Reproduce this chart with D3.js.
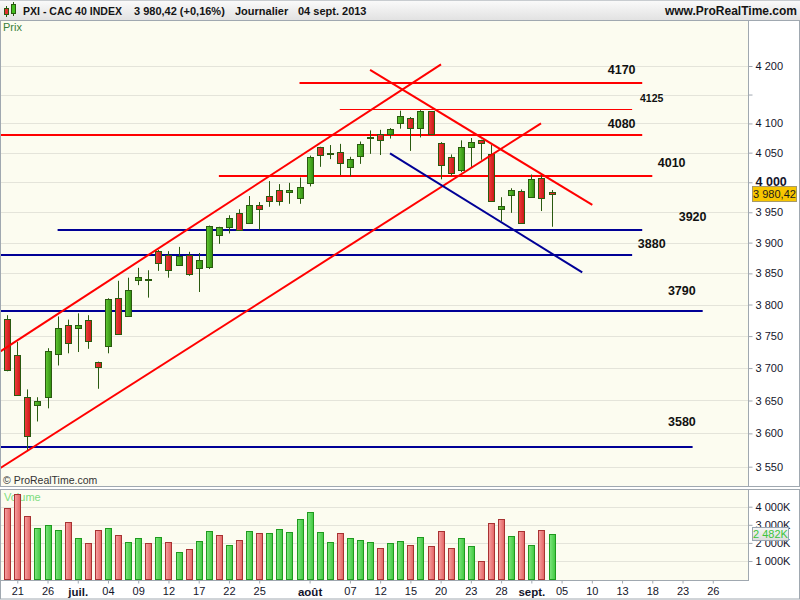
<!DOCTYPE html>
<html>
<head>
<meta charset="utf-8">
<script src="https://cdn.jsdelivr.net/npm/d3@7"></script>
<style>
  html, body { margin: 0; padding: 0; background: #ffffff; }
  svg { display: block; font-family: "Liberation Sans", Arial, sans-serif; }
</style>
</head>
<body>
<svg id="chart" width="800" height="600"></svg>
<script>
// ---- CAC 40 daily sessions, 20 June - 4 Sept 2013 ----
const opens = [3777,3720,3655,3643,3656,3722,3767,3762,3776,3709,
               3734,3810,3782,3839,3840,3886,3879,3864,3879,3858,
               3861,3913,3926,3949,3932,3962,3977,3987,3983,3973,
               3998,4059,4048,4051,4025,4044,4075,4081,4081,4100,
               4109,4093,4121,4066,4042,4020,4059,4071,4047,3955,
               3978,3985,3975,4008,3984];
const highs = [3783,3741,3667,3655,3731,3781,3776,3786,3783,3710,
               3810,3838,3843,3859,3855,3888,3886,3893,3885,3883,
               3928,3926,3945,3955,3977,3967,4002,3997,3999,4008,
               4045,4060,4063,4065,4043,4069,4088,4089,4092,4122,
               4111,4123,4121,4068,4047,4071,4075,4072,4063,3975,
               3990,3988,4013,4013,3987];
const lows   = [3695,3657,3575,3618,3638,3704,3723,3725,3730,3668,
               3723,3752,3781,3831,3811,3854,3843,3862,3846,3820,
               3857,3898,3915,3920,3931,3921,3959,3961,3964,3964,
               3993,4026,4039,4012,4010,4031,4048,4046,4074,4091,
               4053,4076,4080,4005,4011,4017,4025,4038,3967,3935,
               3949,3932,3974,3952,3926];
const closes = [3697,3658,3596,3649,3726,3762,3739,3767,3742,3701,
               3809,3753,3823,3844,3841,3867,3855,3878,3849,3872,
               3927,3925,3940,3921,3962,3955,3968,3969,3987,3992,
               4043,4046,4049,4032,4039,4064,4077,4071,4091,4113,
               4093,4122,4082,4029,4015,4059,4069,4066,3968,3960,
               3987,3933,4005,3974.06,3980.42];
// traded volume, thousands of shares
const volumesK = [3912,4702,3486,2807,2989,2696,3138,2254,1978,2696,
                  2807,2420,2033,2254,1978,2309,2033,1481,1646,2088,
                  2641,2420,1867,2144,2641,2530,2530,2751,2586,3304,
                  3691,2586,2033,2530,2254,2144,2033,1702,1978,2088,
                  1867,2309,1812,2641,1702,2254,1812,983,3083,3304,
                  2365,2641,1867,2696,2482];
const prevClose = 3780;          // close of the session before the first candle

// date axis: trading-day index and its label (future sessions continue the count)
const dayTickIdx  = [1, 4, 7, 10, 13, 16, 19, 22, 25, 30, 34, 37, 40, 43, 46, 49, 52, 55, 58, 61, 64, 67, 70];
const dayTickText = ["21","26","juil.","04","09","12","17","22","25","août","07","12","15","20","23","28","sept.","05","10","13","18","23","26"];
const monthTicks  = ["juil.","août","sept."];

// price and volume axis ticks
const priceTicks = [3550,3600,3650,3700,3750,3800,3850,3900,3950,4000,4050,4100,4150,4200];
const priceTickUnlabelled = [4150];
const volumeTicks = [1000,2000,3000,4000];

// horizontal support / resistance levels (value, first and last session index)
const levelValues = [4170, 4125, 4080, 4010, 3920, 3880, 3790, 3580];
const levelFrom   = [29, 33, -1, 21, 5, -1, -1, -1];
const levelTo     = [63, 62, 63, 64, 63, 62, 69, 68];
const levelKind   = ["res","resThin","res","res","sup","sup","sup","sup"];

// trend lines: [session index, price] end points
const trendTop     = [[-0.714, 3725.6], [43.04, 4203]];
const trendBottom  = [[-0.714, 3547.6], [52.96, 4100.2]];
const trendFallRed = [[36.0, 4193], [58.05, 3962.1]];
const trendFallBlue= [[37.98, 4048.9], [57.05, 3851.5]];

// ---- layout ----
const W = 800, H = 600;
const plotL = 0, plotR = 748;
const priceTop = 20, priceBot = 486;
const volTop = 489, volBot = 580;

// level tag placement (session index of text centre, lift above the line in px)
const tagAt   = [60.96, 63.94, 60.96, 65.92, 68.0, 63.94, 66.93, 66.94];
const tagLift = [14, 11, 12, 14, 14, 11, 20, 25];

const svg = d3.select("#chart");
const defs = svg.append("defs");

const locale = d3.formatLocale({ decimal: ",", thousands: " ", grouping: [3], currency: ["", " €"] });
const fmtInt = locale.format(",.0f");
const fmtPrice = locale.format(",.2f");

const x  = d3.scaleLinear().domain([0, 54]).range([7.2, 551.5]);
const yP = d3.scaleLog().domain([3550, 4200]).range([466.7, 66]);
const yV = d3.scaleLinear().domain([0, 4000]).range([579.1, 506.7]);

function grad(id, c0, c1) {
  const g = defs.append("linearGradient").attr("id", id).attr("x1", 0).attr("x2", 1).attr("y1", 0).attr("y2", 0);
  g.append("stop").attr("offset", "0%").attr("stop-color", c0);
  g.append("stop").attr("offset", "100%").attr("stop-color", c1);
}
grad("gUp", "#62c834", "#2f8d0e");
grad("gDown", "#f23e3e", "#c81616");
grad("vUp", "#7fe67f", "#3fc83f");
grad("vDown", "#f7a3a3", "#e26262");
const hg = defs.append("linearGradient").attr("id", "hdr").attr("x1", 0).attr("x2", 0).attr("y1", 0).attr("y2", 1);
hg.append("stop").attr("offset", "0%").attr("stop-color", "#fbfbfb");
hg.append("stop").attr("offset", "100%").attr("stop-color", "#e2e2e2");
const vb = defs.append("linearGradient").attr("id", "volBox").attr("x1", 0).attr("x2", 0).attr("y1", 0).attr("y2", 1);
vb.append("stop").attr("offset", "0%").attr("stop-color", "#f7f7f7");
vb.append("stop").attr("offset", "100%").attr("stop-color", "#dcdcdc");

defs.append("clipPath").attr("id", "clipPrice")
  .append("rect").attr("x", plotL + 1).attr("y", priceTop + 1).attr("width", plotR - plotL - 1).attr("height", priceBot - priceTop - 1);

// ---- backgrounds ----
svg.append("rect").attr("width", W).attr("height", H).attr("fill", "#ffffff");
svg.append("rect").attr("x", 0).attr("y", 0).attr("width", W).attr("height", priceTop).attr("fill", "url(#hdr)");
svg.append("rect").attr("x", plotL).attr("y", priceTop).attr("width", plotR - plotL).attr("height", priceBot - priceTop).attr("fill", "#fcfcf0");
svg.append("rect").attr("x", plotL).attr("y", volTop).attr("width", plotR - plotL).attr("height", volBot - volTop).attr("fill", "#fcfcf0");

// ---- header ----
const head = svg.append("g");
head.append("line").attr("x1", 6.5).attr("x2", 6.5).attr("y1", 6).attr("y2", 17).attr("stroke", "#2a5a10");
head.append("rect").attr("x", 4.5).attr("y", 8.5).attr("width", 4).attr("height", 6).attr("fill", "#e23030").attr("stroke", "#2a5a10");
head.append("line").attr("x1", 13.5).attr("x2", 13.5).attr("y1", 2).attr("y2", 16).attr("stroke", "#2a5a10");
head.append("rect").attr("x", 11.5).attr("y", 4.5).attr("width", 4).attr("height", 9).attr("fill", "#44c020").attr("stroke", "#2a5a10");
const hdrFont = { "font-size": "11px", "font-weight": "bold", fill: "#141414" };
function txt(g, tx, ty, s, st) {
  const t = g.append("text").attr("x", tx).attr("y", ty).text(s);
  Object.entries(st).forEach(([k, v]) => t.attr(k, v));
  return t;
}
txt(head, 23, 15, "PXI - CAC 40 INDEX", { ...hdrFont, lengthAdjust: "spacingAndGlyphs", textLength: 99 });
txt(head, 134, 15, fmtPrice(closes[closes.length - 1]) + " (+0,16%)", hdrFont);
txt(head, 235, 15, "Journalier", hdrFont);
txt(head, 298, 15, "04 sept. 2013", hdrFont);
txt(head, 797, 15, "www.ProRealTime.com", { "font-size": "12px", "font-weight": "bold", fill: "#141414", "text-anchor": "end" });

// ---- grid ----
const grid = svg.append("g");
grid.selectAll("line.pg").data(priceTicks).join("line")
  .attr("x1", plotL + 1).attr("x2", plotR)
  .attr("y1", d => Math.round(yP(d)) + 0.5).attr("y2", d => Math.round(yP(d)) + 0.5)
  .attr("stroke", "#e4e4da").attr("stroke-width", 1);
grid.selectAll("line.vg").data(volumeTicks).join("line")
  .attr("x1", plotL + 1).attr("x2", plotR)
  .attr("y1", d => Math.round(yV(d)) + 0.5).attr("y2", d => Math.round(yV(d)) + 0.5)
  .attr("stroke", "#e4e4da").attr("stroke-width", 1);

txt(svg, 3, 31, "Prix", { "font-size": "11px", fill: "#3a7f3a" });
txt(svg, 3, 484, "© ProRealTime.com", { "font-size": "10.5px", fill: "#333333" });
txt(svg, 4, 501, "Volume", { "font-size": "11px", fill: "#7ddc7d" });

// ---- price panel content ----
const pricePlot = svg.append("g").attr("clip-path", "url(#clipPrice)");
const n = closes.length;
const px = i => Math.round(x(i)) + 0.5;
const isUp = i => closes[i] >= opens[i];

// support / resistance levels, snapped to whole pixels
const levelColor = k => (k === "sup" ? "#000096" : "#ff0000");
const levelWidth = k => (k === "resThin" ? 1 : 2);
const levelY = (d, i) => Math.round(yP(d)) + (levelWidth(levelKind[i]) === 1 ? 0.5 : 0);
pricePlot.selectAll("line.level").data(levelValues).join("line")
  .attr("x1", (d, i) => x(levelFrom[i])).attr("x2", (d, i) => x(levelTo[i]))
  .attr("y1", levelY).attr("y2", levelY)
  .attr("stroke", (d, i) => levelColor(levelKind[i]))
  .attr("stroke-width", (d, i) => levelWidth(levelKind[i]));

// candles
const cg = pricePlot.append("g");
const candles = cg.selectAll("g").data(d3.range(n)).join("g");
candles.append("line")
  .attr("x1", px).attr("x2", px)
  .attr("y1", i => yP(highs[i])).attr("y2", i => yP(lows[i]))
  .attr("stroke", "#2a5a10").attr("stroke-width", 1);
candles.append("rect")
  .attr("x", i => Math.round(x(i)) - 2.5)
  .attr("width", 6)
  .attr("y", i => Math.round(yP(Math.max(opens[i], closes[i]))) + 0.5)
  .attr("height", i => Math.max(1, Math.round(yP(Math.min(opens[i], closes[i]))) - Math.round(yP(Math.max(opens[i], closes[i])))))
  .attr("fill", i => (isUp(i) ? "url(#gUp)" : "url(#gDown)"))
  .attr("stroke", "#2a5a10").attr("stroke-width", 1);

// trend lines
const segs = [
  { pts: trendTop, c: "#ff0000" },
  { pts: trendBottom, c: "#ff0000" },
  { pts: trendFallRed, c: "#ff0000" },
  { pts: trendFallBlue, c: "#000096" }
];
pricePlot.selectAll("line.trend").data(segs).join("line")
  .attr("x1", d => x(d.pts[0][0])).attr("y1", d => yP(d.pts[0][1]))
  .attr("x2", d => x(d.pts[1][0])).attr("y2", d => yP(d.pts[1][1]))
  .attr("stroke", d => d.c).attr("stroke-width", 2);

// level tags
svg.append("g").selectAll("text").data(levelValues).join("text")
  .attr("x", (d, i) => x(tagAt[i]))
  .attr("y", (d, i) => yP(d) - tagLift[i])
  .attr("dy", "0.36em")
  .attr("text-anchor", "middle")
  .attr("font-size", (d, i) => (levelKind[i] === "resThin" ? "10.5px" : "12.5px"))
  .attr("font-weight", "bold")
  .attr("fill", "#111111")
  .text(d => d);

// ---- volume bars ----
const volUp = i => closes[i] >= (i === 0 ? prevClose : closes[i - 1]);
svg.append("g").selectAll("rect").data(volumesK).join("rect")
  .attr("x", (d, i) => Math.round(x(i)) - 2.5)
  .attr("width", 6)
  .attr("y", d => Math.round(yV(d)) + 0.5)
  .attr("height", d => Math.round(yV(0)) - Math.round(yV(d)))
  .attr("fill", (d, i) => (volUp(i) ? "url(#vUp)" : "url(#vDown)"))
  .attr("stroke", (d, i) => (volUp(i) ? "#1f9a1f" : "#a83232"))
  .attr("stroke-width", 1);

// ---- frames ----
const frame = "#a0a8b0";
svg.append("rect").attr("x", 0.5).attr("y", priceTop + 0.5).attr("width", W - 1).attr("height", priceBot - priceTop).attr("fill", "none").attr("stroke", frame);
svg.append("rect").attr("x", 0.5).attr("y", volTop + 0.5).attr("width", W - 1).attr("height", H - volTop - 1.5).attr("fill", "none").attr("stroke", frame);
svg.append("line").attr("x1", plotR + 0.5).attr("x2", plotR + 0.5).attr("y1", priceTop).attr("y2", priceBot).attr("stroke", frame);
svg.append("line").attr("x1", plotR + 0.5).attr("x2", plotR + 0.5).attr("y1", volTop).attr("y2", volBot).attr("stroke", frame);
svg.append("line").attr("x1", 0).attr("x2", plotR + 1).attr("y1", volBot + 0.5).attr("y2", volBot + 0.5).attr("stroke", frame);
svg.append("line").attr("x1", 0).attr("x2", W).attr("y1", 0.5).attr("y2", 0.5).attr("stroke", "#c8ccd0");

// ---- axes ----
const axisColor = "#14142a";
const pAxis = svg.append("g").attr("transform", `translate(${plotR + 0.5},0)`)
  .call(d3.axisRight(yP).tickValues(priceTicks).tickSize(4).tickPadding(3)
    .tickFormat(d => (priceTickUnlabelled.includes(d) ? "" : fmtInt(d))));
pAxis.select(".domain").remove();
pAxis.selectAll(".tick line").attr("stroke", frame);
pAxis.selectAll(".tick text").attr("font-family", null).attr("font-size", "11px").attr("fill", axisColor)
  .filter(d => d === 4000).attr("font-size", "12.5px").attr("font-weight", "bold").attr("dy", "0.22em");

const vAxis = svg.append("g").attr("transform", `translate(${plotR + 0.5},0)`)
  .call(d3.axisRight(yV).tickValues(volumeTicks).tickSize(4).tickPadding(3).tickFormat(d => fmtInt(d) + "K"));
vAxis.select(".domain").remove();
vAxis.selectAll(".tick line").attr("stroke", frame);
vAxis.selectAll(".tick text").attr("font-family", null).attr("font-size", "11px").attr("fill", axisColor);

const xAxis = svg.append("g").attr("transform", `translate(0,${volBot + 0.5})`)
  .call(d3.axisBottom(x).tickValues(dayTickIdx).tickSize(3).tickPadding(4)
    .tickFormat((d, i) => dayTickText[i]));
xAxis.select(".domain").remove();
xAxis.selectAll(".tick line").attr("stroke", frame);
xAxis.selectAll(".tick text").attr("font-family", null).attr("font-size", "11px").attr("fill", axisColor)
  .filter(function () { return monthTicks.includes(d3.select(this).text()); })
  .attr("font-weight", "bold").attr("font-size", "11.5px");

// ---- last value markers (drawn over the axis labels) ----
const lastClose = closes[n - 1];
const lc = svg.append("g").attr("transform", `translate(0,${Math.round(yP(lastClose))})`);
lc.append("rect").attr("x", 752.5).attr("y", -7.5).attr("width", 44).attr("height", 15)
  .attr("fill", "#f7c600").attr("stroke", "#a89a68");
lc.append("text").attr("x", 774.5).attr("y", 0).attr("dy", "0.36em").attr("text-anchor", "middle")
  .attr("font-size", "11px").attr("fill", "#1a1a1a").text(fmtPrice(lastClose));

const lastVol = volumesK[n - 1];
const lv = svg.append("g").attr("transform", `translate(0,${Math.round(yV(lastVol))})`);
lv.append("rect").attr("x", 752.5).attr("y", -6.5).attr("width", 36).attr("height", 13)
  .attr("fill", "url(#volBox)").attr("stroke", "#9aa6b2");
lv.append("text").attr("x", 770.5).attr("y", 0).attr("dy", "0.36em").attr("text-anchor", "middle")
  .attr("font-size", "11px").attr("fill", "#3cc43c").text(fmtInt(lastVol) + "K");
</script>
</body>
</html>
